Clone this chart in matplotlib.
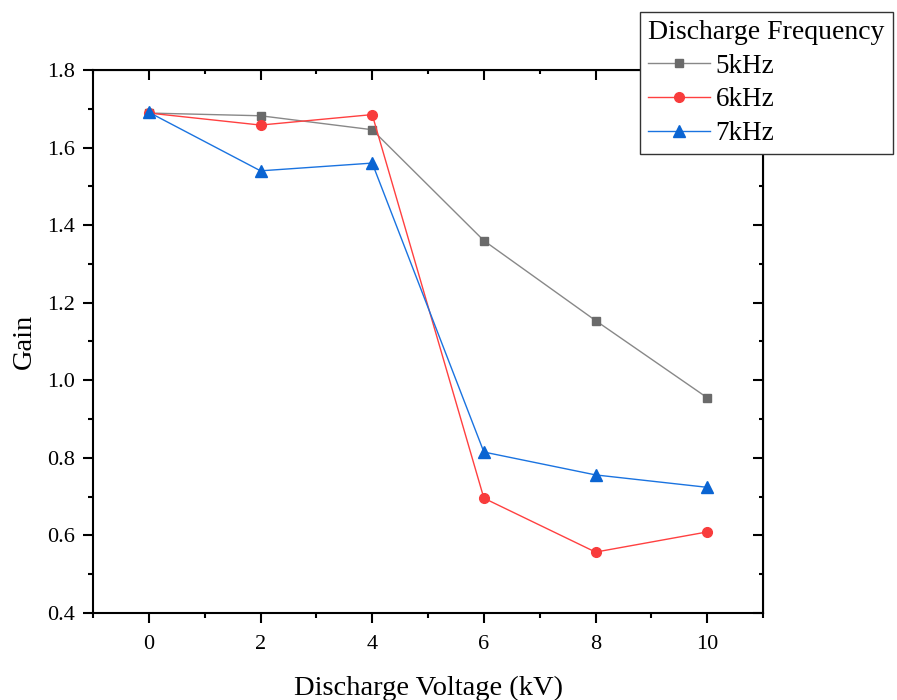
import matplotlib.pyplot as plt
from matplotlib.ticker import MultipleLocator

plt.rcParams['font.family'] = ['Liberation Serif', 'DejaVu Serif']
plt.rcParams['font.size'] = 16

# data
voltage = [0, 2, 4, 6, 8, 10]
gain_5k = [1.689, 1.682, 1.646, 1.360, 1.154, 0.955]
gain_6k = [1.689, 1.658, 1.685, 0.696, 0.557, 0.609]
gain_7k = [1.691, 1.540, 1.560, 0.815, 0.756, 0.724]
labels = ['5kHz', '6kHz', '7kHz']

fig = plt.figure(figsize=(8.97, 7.0), dpi=100)
ax = fig.add_axes([0.1037, 0.1243, 0.747, 0.7757])

ax.plot(voltage, gain_5k, color='#888888', lw=1, marker='s', ms=6,
        mfc='#6a6a6a', mec='#6a6a6a', label=labels[0])
ax.plot(voltage, gain_6k, color='#ff4040', lw=1, marker='o', ms=7,
        mfc='#f83c3c', mec='#f83c3c', label=labels[1])
ax.plot(voltage, gain_7k, color='#1a73e0', lw=1, marker='^', ms=8,
        mfc='#0a64d2', mec='#0a64d2', label=labels[2])

ax.set_xlim(-1, 11)
ax.set_ylim(0.4, 1.8)
ax.xaxis.set_major_locator(MultipleLocator(2))
ax.xaxis.set_minor_locator(MultipleLocator(1))
ax.yaxis.set_major_locator(MultipleLocator(0.2))
ax.yaxis.set_minor_locator(MultipleLocator(0.1))
ax.yaxis.set_major_formatter(plt.FormatStrFormatter('%.1f'))

for s in ax.spines.values():
    s.set_linewidth(1.5)
ax.tick_params(which='major', direction='out', length=7, width=1.5,
               top=False, right=False)
ax.tick_params(which='minor', direction='out', length=3.6, width=1.5)
ax.tick_params(axis='x', which='major', pad=8.5)
ax.tick_params(axis='y', which='major', pad=6)

# inward ticks on top and right axes
sec_x = ax.secondary_xaxis('top')
sec_x.xaxis.set_major_locator(MultipleLocator(2))
sec_x.xaxis.set_minor_locator(MultipleLocator(1))
sec_x.tick_params(which='major', direction='in', length=7, width=1.5, labeltop=False)
sec_x.tick_params(which='minor', direction='in', length=3, width=1.5)
sec_y = ax.secondary_yaxis('right')
sec_y.yaxis.set_major_locator(MultipleLocator(0.2))
sec_y.yaxis.set_minor_locator(MultipleLocator(0.1))
sec_y.tick_params(which='major', direction='in', length=7, width=1.5, labelright=False)
sec_y.tick_params(which='minor', direction='in', length=3, width=1.5)

ax.set_xlabel('Discharge Voltage (kV)', fontsize=20.5, labelpad=16)
ax.set_ylabel('Gain', fontsize=20.5, labelpad=7)

leg = fig.legend(loc='upper right', bbox_to_anchor=(0.995, 0.983),
                 title='Discharge Frequency', fontsize=19.5, title_fontsize=20,
                 frameon=True, fancybox=False, edgecolor='#333333', framealpha=1,
                 borderpad=0.3, labelspacing=0.32, handlelength=2.3,
                 handletextpad=0.2, borderaxespad=0, alignment='left')
leg.get_frame().set_linewidth(1)
leg.set_zorder(10)

fig.savefig('out.png', dpi=100)
